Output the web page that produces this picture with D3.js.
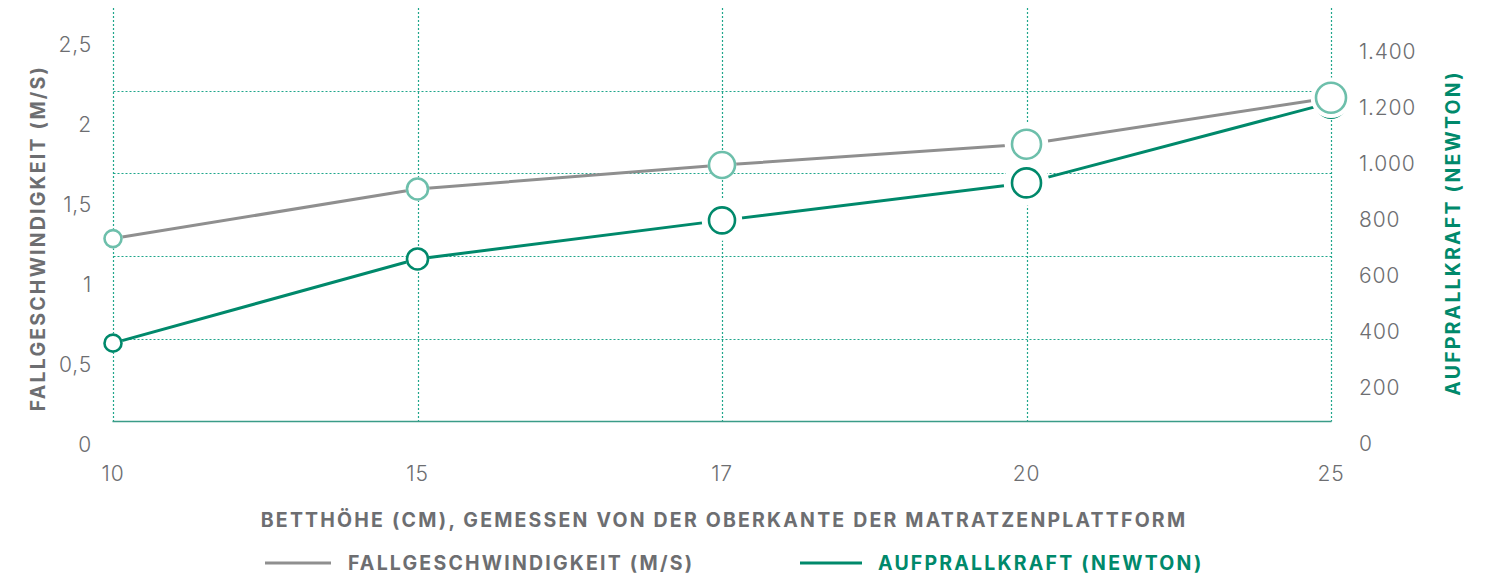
<!DOCTYPE html>
<html>
<head>
<meta charset="utf-8">
<script src="https://cdn.jsdelivr.net/npm/d3@7"></script>
<style>
  html, body { margin: 0; padding: 0; background: #fff; }
  svg { display: block; font-family: Inter, "Open Sans", sans-serif; }
</style>
</head>
<body>
<svg id="chart" width="1491" height="583"></svg>
<script>
// ---- data ----
const categories = ["10", "15", "17", "20", "25"];
const fallSpeed = [1.29, 1.60, 1.75, 1.88, 2.17];          // m/s (left axis)
const impactForce = [358, 659, 797, 931, 1218];           // newton (right axis)
const leftTicks = [0, 0.5, 1, 1.5, 2, 2.5];
const leftTickLabels = ["0", "0,5", "1", "1,5", "2", "2,5"];
const rightTicks = [0, 200, 400, 600, 800, 1000, 1200, 1400];
const rightTickLabels = ["0", "200", "400", "600", "800", "1.000", "1.200", "1.400"];
const xTitle = "BETTHÖHE (CM), GEMESSEN VON DER OBERKANTE DER MATRATZENPLATTFORM";
const leftTitle = "FALLGESCHWINDIGKEIT (M/S)";
const rightTitle = "AUFPRALLKRAFT (NEWTON)";

// ---- styles ----
const GRAY_TEXT = "#6d6e71";
const GRAY_LINE = "#8f8f8f";
const GREEN = "#00896b";
const LIGHT_TEAL = "#6dbfab";
const GRID = "#1fa68b";
const markerR = [8.5, 10.5, 13, 14.5, 15];
const haloGray = [0, 0, 0, 6, 4];
const haloGreen = [0, 0, 6, 7, 0];
const TITLE_FS = 19.5, TITLE_LS = 2.2;
const TICK_FS = 21, TICK_LS = 0.8;

const svg = d3.select("#chart");

const x = d3.scalePoint().domain(categories).range([113, 1331]);
const yLeft = d3.scaleLinear().domain([0, 2.5]).range([445, 45]);
const yRight = d3.scaleLinear().domain([0, 1400]).range([443.3, 51.7]);
const grid = d3.scaleLinear().domain([0, 5]).range([421.5, 8]);
const crisp = v => Math.round(v) + 0.5;

// grid
const g = svg.append("g");
g.selectAll("line.h").data([1, 2, 3, 4]).join("line")
  .attr("x1", crisp(x(categories[0]))).attr("x2", crisp(x(categories[categories.length - 1])))
  .attr("y1", d => crisp(grid(d))).attr("y2", d => crisp(grid(d)))
  .attr("stroke", GRID).attr("stroke-width", 1.2).attr("stroke-dasharray", "2,2");
g.selectAll("line.v").data(categories).join("line")
  .attr("x1", d => crisp(x(d))).attr("x2", d => crisp(x(d)))
  .attr("y1", grid(5)).attr("y2", grid(0))
  .attr("stroke", GRID).attr("stroke-width", 1.2).attr("stroke-dasharray", "2,2");
g.append("line")
  .attr("x1", crisp(x(categories[0])) - 1).attr("x2", crisp(x(categories[categories.length - 1])))
  .attr("y1", grid(0)).attr("y2", grid(0))
  .attr("stroke", "#3a9c88").attr("stroke-width", 1.6);

// axes
const axL = d3.axisLeft(yLeft).tickValues(leftTicks)
  .tickFormat((d, i) => leftTickLabels[i]).tickSize(0).tickPadding(0);
const gl = svg.append("g").attr("transform", "translate(92,0)").call(axL);
const axR = d3.axisRight(yRight).tickValues(rightTicks)
  .tickFormat((d, i) => rightTickLabels[i]).tickSize(0).tickPadding(0);
const gr = svg.append("g").attr("transform", "translate(1359,0)").call(axR);
[gl, gr].forEach(a => {
  a.select(".domain").remove();
  a.selectAll("text").attr("fill", GRAY_TEXT).attr("font-size", TICK_FS)
    .attr("font-weight", 300).attr("letter-spacing", TICK_LS)
    .attr("font-family", "Inter, sans-serif");
});

// x labels
svg.append("g").selectAll("text").data(categories).join("text")
  .attr("x", d => x(d)).attr("y", 474).attr("dy", "0.35em")
  .attr("text-anchor", "middle").attr("fill", GRAY_TEXT)
  .attr("font-size", TICK_FS).attr("letter-spacing", TICK_LS)
  .attr("font-weight", 300).text(d => d);

// titles
function title(sel) {
  return sel.attr("dy", "0.35em").attr("text-anchor", "middle")
    .attr("font-size", TITLE_FS).attr("font-weight", 700)
    .attr("letter-spacing", TITLE_LS);
}
title(svg.append("text").attr("x", 724).attr("y", 520))
  .attr("fill", GRAY_TEXT).text(xTitle);
title(svg.append("text").attr("transform", "translate(38,238) rotate(-90)"))
  .attr("fill", GRAY_TEXT).text(leftTitle);
title(svg.append("text").attr("transform", "translate(1453,233) rotate(-90)"))
  .attr("fill", GREEN).text(rightTitle);

// series
function drawSeries(values, yScale, lineColor, markerColor, halo) {
  const line = d3.line().x((d, i) => x(categories[i])).y(d => yScale(d));
  svg.append("path").datum(values).attr("d", line)
    .attr("fill", "none").attr("stroke", lineColor).attr("stroke-width", 3);
  const m = svg.append("g");
  m.selectAll("circle.halo").data(values).join("circle")
    .attr("cx", (d, i) => x(categories[i])).attr("cy", d => yScale(d))
    .attr("r", (d, i) => markerR[i] + 1.3 + halo[i]).attr("fill", "#fff");
  m.selectAll("circle.mk").data(values).join("circle")
    .attr("cx", (d, i) => x(categories[i])).attr("cy", d => yScale(d))
    .attr("r", (d, i) => markerR[i]).attr("fill", "#fff")
    .attr("stroke", markerColor).attr("stroke-width", 2.6);
}
drawSeries(impactForce, yRight, GREEN, GREEN, haloGreen);
drawSeries(fallSpeed, yLeft, GRAY_LINE, LIGHT_TEAL, haloGray);

// legend
const legend = [
  { label: leftTitle, color: GRAY_LINE, text: GRAY_TEXT, x1: 265, x2: 331, tx: 348 },
  { label: rightTitle, color: GREEN, text: GREEN, x1: 800, x2: 862, tx: 878 }
];
const lg = svg.append("g");
lg.selectAll("line").data(legend).join("line")
  .attr("x1", d => d.x1).attr("x2", d => d.x2).attr("y1", 563).attr("y2", 563)
  .attr("stroke", d => d.color).attr("stroke-width", 3);
lg.selectAll("text").data(legend).join("text")
  .attr("x", d => d.tx).attr("y", 563).attr("dy", "0.35em")
  .attr("fill", d => d.text).attr("font-size", TITLE_FS).attr("font-weight", 700)
  .attr("letter-spacing", TITLE_LS)
  .text(d => d.label);
</script>
</body>
</html>
